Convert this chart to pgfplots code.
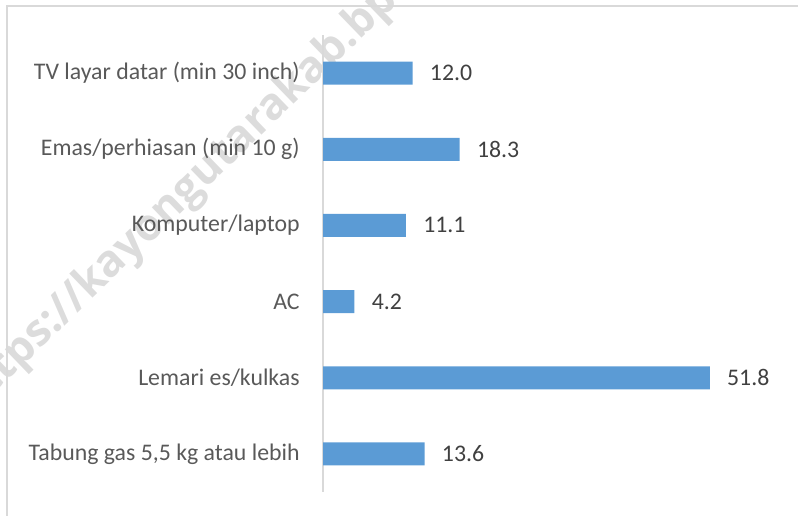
\documentclass[border=0pt]{standalone}
\usepackage{pgfplots}
\pgfplotsset{compat=1.18}
\usepackage{fontspec}
\setmainfont{Carlito}
\newfontfamily\wmfont{Open Sans}
\definecolor{barblue}{HTML}{5B9BD5}
\definecolor{lbl}{HTML}{595959}
\definecolor{num}{HTML}{404040}
\definecolor{frame}{HTML}{D9D9D9}
\definecolor{wm}{HTML}{DCDCDC}
\begin{document}
\begin{tikzpicture}[x=1bp,y=1bp]
\useasboundingbox (0,0) rectangle (399,258);
\node[rotate=44, text=wm, font=\wmfont\bfseries\fontsize{22bp}{22bp}\selectfont] at (114,182) {https://kayongutarakab.bps.go.id};
\draw[frame, line width=0.75bp] (3.5,-5) -- (3.5,255) -- (410,255);
\begin{axis}[
  at={(161.5bp,12bp)}, anchor=south west,
  scale only axis, width=224bp, height=228.5bp,
  xmin=0, xmax=60, ymin=-0.5, ymax=5.5, y dir=reverse,
  xbar, bar width=11.5bp, bar shift=0pt,
  axis x line=none, axis y line=left,
  y axis line style={draw=frame, line width=0.75bp, -},
  xtick=\empty, ytick={0,1,2,3,4,5},
  yticklabels={TV layar datar (min 30 inch), Emas/perhiasan (min 10 g), Komputer/laptop, AC, Lemari es/kulkas, {Tabung gas 5,5 kg atau lebih}},
  major tick length=0pt,
  yticklabel style={font=\fontsize{11.9bp}{14bp}\selectfont, text=lbl, anchor=east, inner sep=0pt, xshift=-11.5bp},
  nodes near coords={\pgfmathprintnumber[fixed,fixed zerofill,precision=1,assume math mode=true]{\pgfplotspointmeta}},
  nodes near coords style={font=\fontsize{11.9bp}{14bp}\selectfont, text=num, anchor=west, inner sep=0pt, xshift=8.5bp},
  clip=false,
]
\addplot[fill=barblue, draw=none] coordinates {(12.0,0) (18.3,1) (11.1,2) (4.2,3) (51.8,4) (13.6,5)};
\end{axis}
\end{tikzpicture}
\end{document}
